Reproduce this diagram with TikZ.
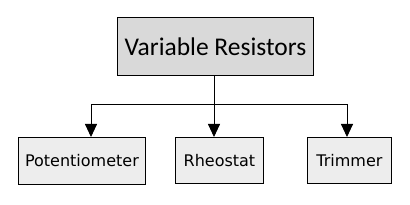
\documentclass[tikz,border=0pt]{standalone}
\usepackage{fontspec}
\newfontfamily\topfont{Carlito}
\newfontfamily\boxfont{DejaVu Sans}
\usetikzlibrary{arrows.meta}
\definecolor{topfill}{HTML}{D9D9D9}
\definecolor{subfill}{HTML}{EDEDED}
\begin{document}
\begin{tikzpicture}[x=1pt,y=-1pt,
  topbox/.style={draw=black,line width=0.9pt,fill=topfill,inner sep=0pt},
  subbox/.style={draw=black,line width=0.9pt,fill=subfill,inner sep=0pt,font=\boxfont\fontsize{16}{20}\selectfont},
  link/.style={draw=black,line width=0.9pt,-{Triangle[width=12pt,length=13pt]}}]
\useasboundingbox (0,0) rectangle (410,205);
\node[topbox,minimum width=196pt,minimum height=58pt,anchor=north west,font=\topfont\fontsize{25.5}{30}\selectfont] (top) at (117,17) {Variable Resistors};
\node[subbox,minimum width=127pt,minimum height=47pt,anchor=north west] (pot) at (18,137) {Potentiometer};
\node[subbox,minimum width=88pt,minimum height=46pt,anchor=north west] (rhe) at (175,137) {Rheostat};
\node[subbox,minimum width=84pt,minimum height=46pt,anchor=north west] (tri) at (307,137) {Trimmer};
\coordinate (j) at (214,104);
\draw[line width=0.9pt] (top.south -| j) -- (j);
\draw[link] (j) -- (j |- rhe.north);
\draw[link] (j) -| (pot.north -| 91,0);
\draw[link] (j) -| (tri.north -| 347,0);
\end{tikzpicture}
\end{document}
